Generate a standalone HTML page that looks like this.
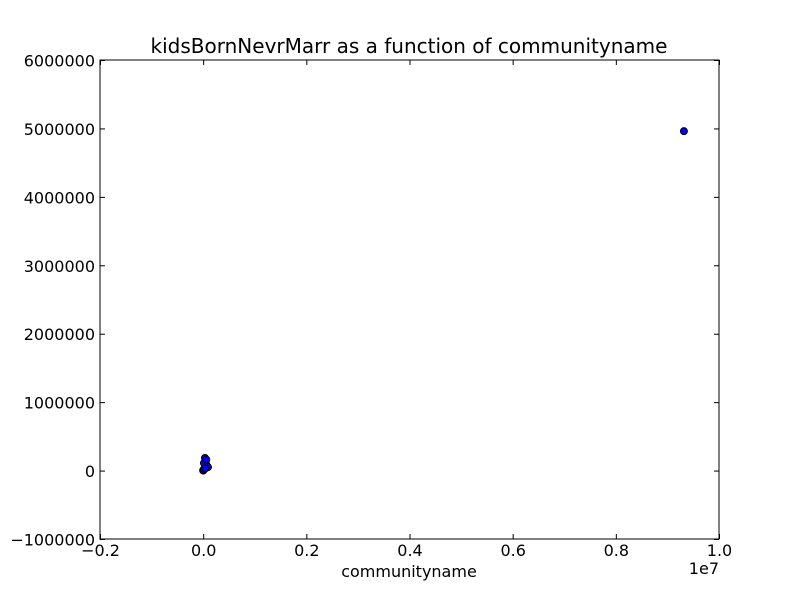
<!DOCTYPE html>
<html><head><meta charset="utf-8"><style>
body{margin:0;background:#fff;width:800px;height:600px;overflow:hidden}
svg text{font-family:"DejaVu Sans","Liberation Sans",sans-serif;fill:#000}
</style></head><body>
<svg id="chart" width="800" height="600">
<rect width="800" height="600" fill="#fff"/>
<text x="409" y="53" font-size="20" text-anchor="middle">kidsBornNevrMarr as a function of communityname</text>
<text x="409" y="577" font-size="16" text-anchor="middle">communityname</text>
<text x="719" y="574" font-size="16" text-anchor="end">1e7</text>
<g id="ticks"></g>
<g id="points"></g>
<rect x="100" y="60" width="619" height="479" fill="none" stroke="#000" stroke-width="1"/>
</svg>
<script>
const xVals=[9320000,35000,54000,15000,74000,93000,0,2000,15000,60000,40000];
const yVals=[4960000,184000,140000,110000,67000,50000,5000,0,20000,160000,30000];
const xTicks=[-0.2,0.0,0.2,0.4,0.6,0.8,1.0];
const yTicks=[-1000000,0,1000000,2000000,3000000,4000000,5000000,6000000];
const L=100,R=719,T=60,B=539;
const sx=v=>L+(v-(-2e6))/(12e6)*(R-L);
const sy=v=>B-(v-(-1e6))/(7e6)*(B-T);
const ns="http://www.w3.org/2000/svg";
const tg=document.getElementById('ticks'),pg=document.getElementById('points');
function mk(t,a,p){const e=document.createElementNS(ns,t);for(const k in a)e.setAttribute(k,a[k]);p.appendChild(e);return e;}
xTicks.forEach(t=>{const x=sx(t*1e7)+0.5;
mk('line',{x1:x,x2:x,y1:B,y2:B-5,stroke:'#000'},tg);
mk('line',{x1:x,x2:x,y1:T,y2:T+5,stroke:'#000'},tg);
const e=mk('text',{x:x,y:B+17,'font-size':16,'text-anchor':'middle'},tg);e.textContent=(t<0?'\u2212':'')+Math.abs(t).toFixed(1);

});
yTicks.forEach(t=>{const y=sy(t)+0.5;
mk('line',{x1:L,x2:L+5,y1:y,y2:y,stroke:'#000'},tg);
mk('line',{x1:R,x2:R-5,y1:y,y2:y,stroke:'#000'},tg);
const e=mk('text',{x:L-5,y:y+6,'font-size':16,'text-anchor':'end'},tg);e.textContent=(t<0?'\u2212':'')+Math.abs(t);

});
xVals.forEach((v,i)=>{const c=mk('circle',{cx:sx(v),cy:sy(yVals[i]),r:3.5,fill:'#0000ff',stroke:'#000','stroke-width':1},pg);

});
</script>
</body></html>
